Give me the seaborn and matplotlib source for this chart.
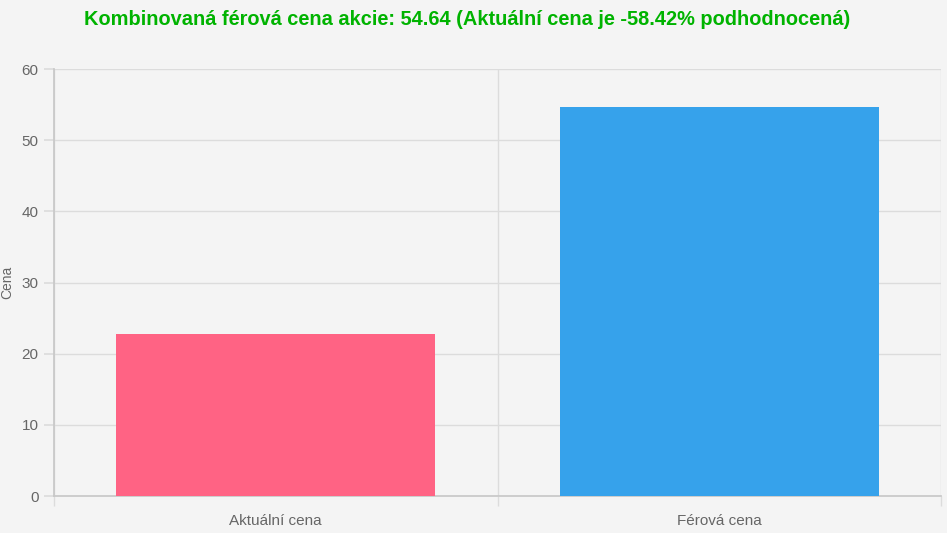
import matplotlib
matplotlib.use("Agg")
import matplotlib.pyplot as plt
import seaborn as sns
import pandas as pd

# data
categories = ["Aktuální cena", "Férová cena"]
prices = [22.72, 54.64]
bar_colors = ["#ff6384", "#36a2eb"]
title = "Kombinovaná férová cena akcie: 54.64 (Aktuální cena je -58.42% podhodnocená)"

BG = "#f4f4f4"
GRID = "#dcdcdc"
TXT = "#666666"

sns.set_theme(style="white")
plt.rcParams["font.family"] = ["Liberation Sans", "DejaVu Sans"]

df = pd.DataFrame({"cat": categories, "price": prices})

fig = plt.figure(figsize=(9.47, 5.33), dpi=100, facecolor=BG)
ax = fig.add_axes([0.057, 0.0694, 0.9367, 0.8011])
ax.set_facecolor(BG)

sns.barplot(data=df, x="cat", y="price", hue="cat", palette=bar_colors,
            width=0.72, saturation=1, legend=False, ax=ax, zorder=3,
            linewidth=0)

ax.set_xlim(-0.5, 1.5)
ax.set_ylim(0, 60)
ax.set_yticks(range(0, 61, 10))
ax.set_xticks([-0.5, 0.5, 1.5], minor=True)

ax.grid(axis="y", color=GRID, linewidth=1, zorder=0)
ax.grid(axis="x", which="minor", color=GRID, linewidth=1, zorder=0)
ax.grid(axis="x", which="major", visible=False)

ax.tick_params(axis="y", which="major", length=7, color=GRID, labelsize=11,
               labelcolor=TXT, pad=4, left=True)
ax.tick_params(axis="x", which="major", length=0, labelsize=11, labelcolor=TXT, pad=13)
ax.tick_params(axis="x", which="minor", length=7, color=GRID, bottom=True)

for s in ["top", "right"]:
    ax.spines[s].set_visible(False)
ax.spines["left"].set_color("#c8c8c8")
ax.spines["bottom"].set_color("#c8c8c8")

ax.set_xlabel("")
ax.set_ylabel("")
fig.text(7 / 947, 0.47, "Cena", rotation=90, ha="center", va="center",
         fontsize=10, color=TXT)

fig.text(0.493, 0.963, title, ha="center", va="center", fontsize=14.4,
         fontweight="bold", color="#00b300")

fig.savefig("out.png", dpi=100, facecolor=BG)
